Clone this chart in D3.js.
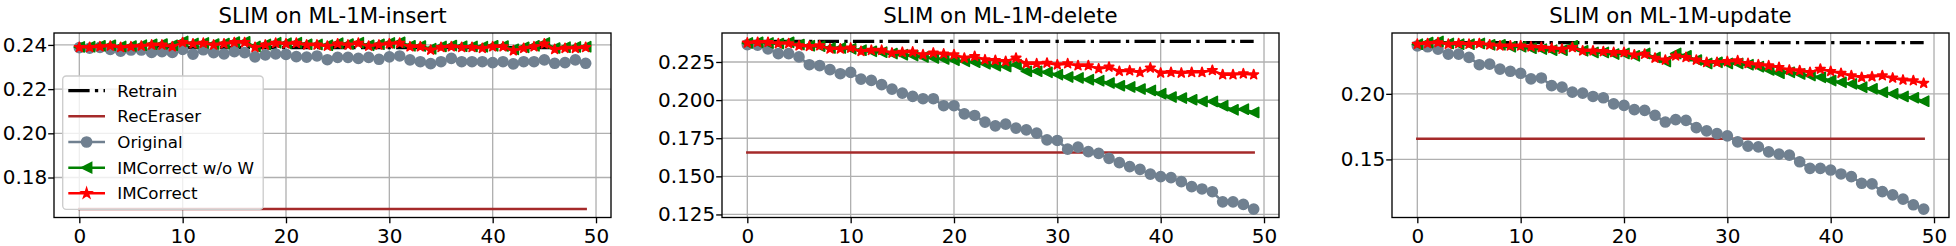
<!DOCTYPE html>
<html>

<head>
    <meta charset="utf-8" />
    <title>SLIM on ML-1M</title>
    <script src="https://cdn.jsdelivr.net/npm/d3@7"></script>
    <style>
        body {
            margin: 0;
            background: #fff;
        }

        svg text {
            font-family: "DejaVu Sans", sans-serif;
            fill: #000;
        }
    </style>
</head>

<body>
</body>
<script>
    // x = step index 0..49
    var steps = d3.range(50)
    var panelTitles = ["SLIM on ML-1M-insert", "SLIM on ML-1M-delete", "SLIM on ML-1M-update"]
    var seriesNames = ["Retrain", "RecEraser", "Original", "IMCorrect w/o W", "IMCorrect"]

    // flat baselines, one value per panel
    var retrainLevel = [0.2388, 0.2385, 0.2391]
    var recEraserLevel = [0.1657, 0.1657, 0.1657]

    var originalInsert = [0.2388, 0.2385, 0.2389, 0.2380, 0.2372, 0.2377, 0.2377, 0.2366, 0.2370, 0.2366,
        0.2380, 0.2358, 0.2378, 0.2365, 0.2359, 0.2370, 0.2365, 0.2346, 0.2355, 0.2359,
        0.2357, 0.2347, 0.2345, 0.2350, 0.2333, 0.2344, 0.2344, 0.2339, 0.2344, 0.2335,
        0.2346, 0.2350, 0.2332, 0.2324, 0.2315, 0.2324, 0.2339, 0.2324, 0.2324, 0.2324,
        0.2320, 0.2324, 0.2314, 0.2324, 0.2324, 0.2332, 0.2317, 0.2320, 0.2332, 0.2317]
    var woWInsert = [0.2391, 0.2392, 0.2396, 0.2398, 0.2393, 0.2395, 0.2399, 0.2403, 0.2404, 0.2398,
        0.2416, 0.2407, 0.2409, 0.2404, 0.2406, 0.2413, 0.2414, 0.2393, 0.2402, 0.2410,
        0.2408, 0.2410, 0.2403, 0.2402, 0.2399, 0.2408, 0.2404, 0.2410, 0.2398, 0.2403,
        0.2409, 0.2412, 0.2396, 0.2395, 0.2383, 0.2393, 0.2397, 0.2394, 0.2393, 0.2392,
        0.2396, 0.2395, 0.2380, 0.2389, 0.2396, 0.2409, 0.2386, 0.2390, 0.2391, 0.2392]
    var imcInsert = [0.2389, 0.2389, 0.2392, 0.2395, 0.2389, 0.2392, 0.2395, 0.2400, 0.2400, 0.2392,
        0.2411, 0.2405, 0.2408, 0.2400, 0.2405, 0.2411, 0.2411, 0.2389, 0.2400, 0.2408,
        0.2405, 0.2408, 0.2400, 0.2400, 0.2395, 0.2405, 0.2400, 0.2408, 0.2395, 0.2400,
        0.2405, 0.2408, 0.2392, 0.2392, 0.2377, 0.2389, 0.2392, 0.2389, 0.2389, 0.2385,
        0.2392, 0.2392, 0.2374, 0.2385, 0.2392, 0.2405, 0.2380, 0.2385, 0.2385, 0.2389]

    var originalDelete = [0.2364, 0.2360, 0.2336, 0.2305, 0.2305, 0.2283, 0.2232, 0.2226, 0.2200, 0.2173,
        0.2182, 0.2138, 0.2129, 0.2101, 0.2072, 0.2046, 0.2024, 0.2009, 0.2009, 0.1963,
        0.1963, 0.1910, 0.1899, 0.1855, 0.1831, 0.1842, 0.1816, 0.1805, 0.1783, 0.1739,
        0.1735, 0.1678, 0.1691, 0.1662, 0.1651, 0.1618, 0.1590, 0.1564, 0.1546, 0.1515,
        0.1498, 0.1491, 0.1465, 0.1432, 0.1417, 0.1399, 0.1333, 0.1333, 0.1316, 0.1285]
    var woWDelete = [0.2375, 0.2379, 0.2375, 0.2371, 0.2379, 0.2364, 0.2357, 0.2353, 0.2342, 0.2342,
        0.2336, 0.2327, 0.2320, 0.2314, 0.2305, 0.2298, 0.2292, 0.2283, 0.2276, 0.2270,
        0.2261, 0.2254, 0.2248, 0.2239, 0.2226, 0.2221, 0.2232, 0.2189, 0.2189, 0.2182,
        0.2167, 0.2151, 0.2145, 0.2134, 0.2127, 0.2112, 0.2094, 0.2086, 0.2072, 0.2063,
        0.2042, 0.2020, 0.2013, 0.2002, 0.1991, 0.1991, 0.1963, 0.1936, 0.1940, 0.1919]
    var imcDelete = [0.2375, 0.2379, 0.2379, 0.2371, 0.2371, 0.2357, 0.2353, 0.2357, 0.2336, 0.2336,
        0.2342, 0.2320, 0.2327, 0.2327, 0.2309, 0.2314, 0.2316, 0.2298, 0.2309, 0.2303,
        0.2298, 0.2276, 0.2287, 0.2265, 0.2261, 0.2254, 0.2276, 0.2239, 0.2239, 0.2243,
        0.2232, 0.2239, 0.2226, 0.2226, 0.2206, 0.2217, 0.2189, 0.2193, 0.2182, 0.2211,
        0.2178, 0.2182, 0.2178, 0.2182, 0.2182, 0.2195, 0.2167, 0.2167, 0.2173, 0.2167]

    var originalUpdate = [0.2366, 0.2359, 0.2341, 0.2303, 0.2303, 0.2278, 0.2222, 0.2227, 0.2189, 0.2172,
        0.2157, 0.2114, 0.2121, 0.2063, 0.2051, 0.2013, 0.2005, 0.1980, 0.1970, 0.1924,
        0.1912, 0.1879, 0.1874, 0.1836, 0.1785, 0.1803, 0.1798, 0.1742, 0.1717, 0.1697,
        0.1680, 0.1634, 0.1601, 0.1596, 0.1558, 0.1540, 0.1533, 0.1482, 0.1432, 0.1432,
        0.1419, 0.1389, 0.1369, 0.1318, 0.1313, 0.1255, 0.1230, 0.1197, 0.1154, 0.1121]
    var woWUpdate = [0.2379, 0.2391, 0.2400, 0.2384, 0.2379, 0.2379, 0.2384, 0.2374, 0.2374, 0.2359,
        0.2359, 0.2348, 0.2341, 0.2333, 0.2333, 0.2366, 0.2328, 0.2316, 0.2316, 0.2303,
        0.2308, 0.2290, 0.2308, 0.2278, 0.2247, 0.2308, 0.2290, 0.2258, 0.2232, 0.2240,
        0.2232, 0.2232, 0.2222, 0.2207, 0.2182, 0.2157, 0.2164, 0.2152, 0.2139, 0.2126,
        0.2101, 0.2088, 0.2076, 0.2051, 0.2038, 0.2013, 0.2000, 0.1980, 0.1970, 0.1944]
    var imcUpdate = [0.2379, 0.2384, 0.2391, 0.2379, 0.2384, 0.2379, 0.2384, 0.2374, 0.2366, 0.2366,
        0.2366, 0.2359, 0.2354, 0.2348, 0.2341, 0.2354, 0.2328, 0.2328, 0.2323, 0.2316,
        0.2316, 0.2298, 0.2303, 0.2273, 0.2258, 0.2290, 0.2278, 0.2258, 0.2240, 0.2240,
        0.2247, 0.2253, 0.2232, 0.2222, 0.2215, 0.2202, 0.2182, 0.2177, 0.2164, 0.2189,
        0.2172, 0.2157, 0.2139, 0.2126, 0.2131, 0.2139, 0.2121, 0.2106, 0.2101, 0.2081]

    var xTickValues = [0, 10, 20, 30, 40, 50]
    var yTickValues = [
        [0.18, 0.20, 0.22, 0.24],
        [0.125, 0.150, 0.175, 0.200, 0.225],
        [0.15, 0.20]
    ]
    var yTickFormats = [".2f", ".3f", ".2f"]

    var panels = [
        { original: originalInsert, wow: woWInsert, imc: imcInsert },
        { original: originalDelete, wow: woWDelete, imc: imcDelete },
        { original: originalUpdate, wow: woWUpdate, imc: imcUpdate }
    ]

    var config = {
        WIDTH: 1956,
        HEIGHT: 246,
        axes: {
            LEFT: [54, 722, 1392],
            WIDTH: 557,
            TOP: 33,
            BOTTOM: 217.5
        },
        font: {
            TICK: 20,
            TITLE: 21.3,
            LEGEND: 16.7
        },
        MARKER: 5,
        MARKER_EDGE: 1.67,
        TICK_LEN: 5.8,
        GRID: "#b0b0b0",
        series: {
            "Retrain": { color: "#000000", width: 3.33, dash: "21.3 5.3 3.3 5.3", marker: null },
            "RecEraser": { color: "#a52a2a", width: 2.5, dash: null, marker: null },
            "Original": { color: "#708090", width: 2.5, dash: null, marker: "circle" },
            "IMCorrect w/o W": { color: "#008000", width: 2.5, dash: null, marker: "triangle" },
            "IMCorrect": { color: "#ff0000", width: 2.5, dash: null, marker: "star" }
        }
    }

    function markerPath(kind, r) {
        if (kind == "circle") {
            var p = d3.path()
            p.arc(0, 0, r, 0, 2 * Math.PI)
            p.closePath()
            return p.toString()
        }
        if (kind == "triangle") {
            return "M" + (-r) + ",0L" + r + "," + (-r) + "L" + r + "," + r + "Z"
        }
        // 5 point star, matplotlib inner ratio
        var pts = []
        for (var k = 0; k < 10; k++) {
            var a = -Math.PI / 2 + k * Math.PI / 5
            var rr = k % 2 == 0 ? r : r * 0.381966
            pts.push([rr * Math.cos(a), rr * Math.sin(a)])
        }
        return "M" + pts.map(p => p[0].toFixed(2) + "," + p[1].toFixed(2)).join("L") + "Z"
    }

    var svg = d3.select("body").append("svg")
        .attr("width", config.WIDTH)
        .attr("height", config.HEIGHT)

    var plotH = config.axes.BOTTOM - config.axes.TOP

    function drawPanel(idx) {
        var p = panels[idx]
        var seriesData = [
            { name: "Retrain", values: steps.map(() => retrainLevel[idx]) },
            { name: "RecEraser", values: steps.map(() => recEraserLevel[idx]) },
            { name: "Original", values: p.original },
            { name: "IMCorrect w/o W", values: p.wow },
            { name: "IMCorrect", values: p.imc }
        ]

        // matplotlib style 5% margins
        var xExt = d3.extent(steps)
        var xPad = (xExt[1] - xExt[0]) * 0.05
        var allY = d3.merge(seriesData.map(s => s.values))
        var yExt = d3.extent(allY)
        var yPad = (yExt[1] - yExt[0]) * 0.05

        var x = d3.scaleLinear().domain([xExt[0] - xPad, xExt[1] + xPad]).range([0, config.axes.WIDTH])
        var y = d3.scaleLinear().domain([yExt[0] - yPad, yExt[1] + yPad]).range([plotH, 0])

        var g = svg.append("g")
            .attr("transform", "translate(" + config.axes.LEFT[idx] + "," + config.axes.TOP + ")")

        g.append("clipPath").attr("id", "clip" + idx)
            .append("rect").attr("width", config.axes.WIDTH).attr("height", plotH)

        // grid
        g.append("g").selectAll("line").data(xTickValues).enter().append("line")
            .attr("x1", d => x(d)).attr("x2", d => x(d))
            .attr("y1", 0).attr("y2", plotH)
            .style("stroke", config.GRID).style("stroke-width", 1.33)
        g.append("g").selectAll("line").data(yTickValues[idx]).enter().append("line")
            .attr("x1", 0).attr("x2", config.axes.WIDTH)
            .attr("y1", d => y(d)).attr("y2", d => y(d))
            .style("stroke", config.GRID).style("stroke-width", 1.33)

        // axes via d3-axis
        var xAxis = d3.axisBottom(x).tickValues(xTickValues).tickFormat(d3.format("d"))
            .tickSize(config.TICK_LEN).tickPadding(5.5)
        var yAxis = d3.axisLeft(y).tickValues(yTickValues[idx]).tickFormat(d3.format(yTickFormats[idx]))
            .tickSize(config.TICK_LEN).tickPadding(1)
        var gx = g.append("g").attr("transform", "translate(0," + plotH + ")").call(xAxis)
        var gy = g.append("g").call(yAxis)
        ;[gx, gy].forEach(function (ax) {
            ax.select(".domain").remove()
            ax.selectAll(".tick line").style("stroke", "#000").style("stroke-width", 1.33)
            ax.selectAll(".tick text").style("font-size", config.font.TICK + "px")
                .style("font-family", "'DejaVu Sans', sans-serif").style("fill", "#000")
        })

        // series
        var plot = g.append("g").attr("clip-path", "url(#clip" + idx + ")")
        seriesData.forEach(function (s) {
            var st = config.series[s.name]
            var line = d3.line().x((d, i) => x(steps[i])).y(d => y(d))
            plot.append("path").datum(s.values)
                .attr("d", line)
                .style("fill", "none")
                .style("stroke", st.color)
                .style("stroke-width", st.width)
                .style("stroke-dasharray", st.dash)
                .style("stroke-linejoin", "round")
                .style("stroke-linecap", st.dash ? "butt" : "square")
            if (st.marker) {
                plot.append("g").selectAll("path").data(s.values).enter().append("path")
                    .attr("d", markerPath(st.marker, config.MARKER))
                    .attr("transform", (d, i) => "translate(" + x(steps[i]) + "," + y(d) + ")")
                    .style("fill", st.color)
                    .style("stroke", st.color)
                    .style("stroke-width", config.MARKER_EDGE)
                    .style("stroke-linejoin", "round")
            }
        })

        // frame
        g.append("rect")
            .attr("width", config.axes.WIDTH).attr("height", plotH)
            .style("fill", "none").style("stroke", "#000").style("stroke-width", 1.33)

        // title
        g.append("text")
            .attr("x", config.axes.WIDTH / 2).attr("y", -10.5)
            .attr("text-anchor", "middle")
            .style("font-size", config.font.TITLE + "px")
            .text(panelTitles[idx])

        if (idx == 0) drawLegend(g)
    }

    function drawLegend(g) {
        var box = { x: 8.7, y: 43, w: 200.5, h: 133.3 }
        var lg = g.append("g")
        lg.append("rect")
            .attr("x", box.x).attr("y", box.y)
            .attr("width", box.w).attr("height", box.h)
            .attr("rx", 3.5)
            .style("fill", "#fff").style("fill-opacity", 0.8)
            .style("stroke", "#cccccc").style("stroke-width", 1.33)
        seriesNames.forEach(function (name, i) {
            var st = config.series[name]
            var cy = box.y + 14.7 + i * 25.65
            lg.append("line")
                .attr("x1", 14.3).attr("x2", 51)
                .attr("y1", cy).attr("y2", cy)
                .style("stroke", st.color)
                .style("stroke-width", st.width)
                .style("stroke-dasharray", st.dash)
            if (st.marker) {
                lg.append("path")
                    .attr("d", markerPath(st.marker, config.MARKER))
                    .attr("transform", "translate(32.6," + cy + ")")
                    .style("fill", st.color).style("stroke", st.color)
                    .style("stroke-width", config.MARKER_EDGE)
            }
            lg.append("text")
                .attr("x", 63.3).attr("y", cy).attr("dy", "0.36em")
                .style("font-size", config.font.LEGEND + "px")
                .text(name)
        })
    }

    for (var i = 0; i < panels.length; i++) {
        drawPanel(i)
    }
</script>

</html>
